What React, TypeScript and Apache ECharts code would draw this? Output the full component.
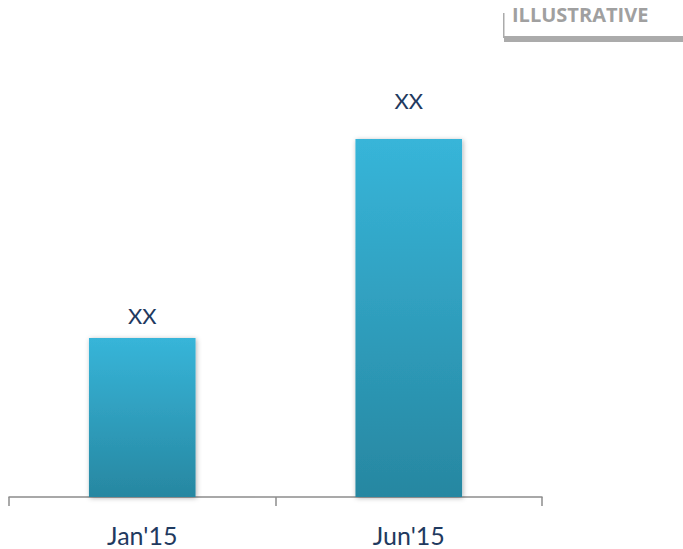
import React, { useEffect, useRef } from "react";
import * as echarts from "echarts";

const categories = ["Jan'15", "Jun'15"];
const values = [159, 358];
const labels = ["XX", "XX"];
const labelGaps = [12, 28];

export default function App() {
  const ref = useRef<HTMLDivElement>(null);
  useEffect(() => {
    const chart = echarts.init(ref.current!, null, { renderer: "svg" });
    chart.setOption({
      animation: false,
      grid: { left: 9, right: 141, top: 97, bottom: 52 },
      xAxis: {
        type: "category",
        data: categories,
        axisLine: { lineStyle: { color: "#8c8c8c", width: 1.5 } },
        axisTick: { show: true, length: 9, lineStyle: { color: "#8c8c8c", width: 1.5 } },
        axisLabel: { color: "#1f3a60", fontSize: 25, fontFamily: "Lato", margin: 25 },
      },
      yAxis: { type: "value", min: 0, max: 400, show: false, splitLine: { show: false } },
      series: [
        {
          type: "bar",
          data: values.map((v, i) => ({
            value: v,
            label: { distance: labelGaps[i] },
          })),
          barWidth: "40%",
          itemStyle: {
            color: new echarts.graphic.LinearGradient(0, 0, 0, 1, [
              { offset: 0, color: "#37b5d9" },
              { offset: 1, color: "#2787a1" },
            ]),
            shadowColor: "rgba(0,0,0,0.3)",
            shadowBlur: 5,
            shadowOffsetX: 1,
            shadowOffsetY: 1,
          },
          label: {
            show: true,
            position: "top",
            formatter: (p: any) => labels[p.dataIndex],
            color: "#1f3a60",
            fontSize: 22,
            fontFamily: "Lato",
          },
        },
      ],
      graphic: [
        {
          type: "text",
          left: 512,
          top: 4,
          style: { text: "ILLUSTRATIVE", fill: "#a0a0a0", fontSize: 20, fontWeight: "bold", fontFamily: "Open Sans" },
        },
        { type: "rect", shape: { x: 504, y: 36, width: 179, height: 6 }, style: { fill: "#ababab" } },
        { type: "rect", shape: { x: 503, y: 13, width: 1.5, height: 25 }, style: { fill: "#ababab" } },
      ],
    });
    return () => chart.dispose();
  }, []);
  return <div ref={ref} style={{ width: 683, height: 549, position: "absolute", left: 0, top: 0 }} />;
}
